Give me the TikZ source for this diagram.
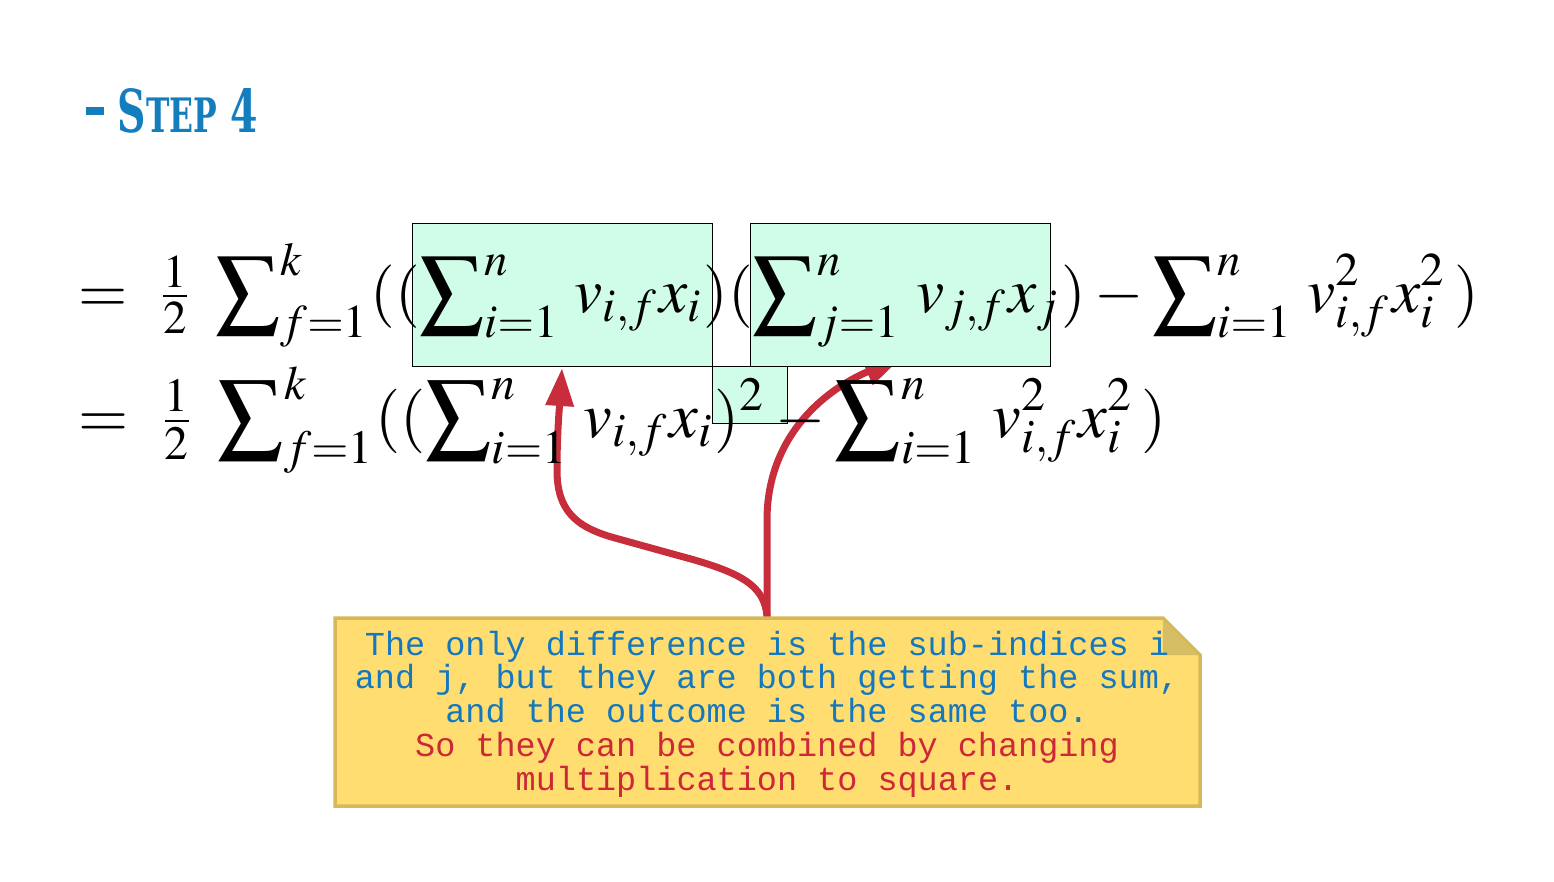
\documentclass[tikz,border=0pt]{standalone}
\usepackage{mathptmx}
\usepackage{fontspec}
\usetikzlibrary{arrows.meta}
\newfontfamily\titlefont{DejaVu Serif}
\newfontfamily\notefont{Liberation Mono}
\definecolor{boxfill}{RGB}{207,253,232}
\definecolor{titleblue}{RGB}{20,125,190}
\definecolor{arrowred}{RGB}{200,45,60}
\definecolor{notefill}{RGB}{255,221,112}
\definecolor{noteborder}{RGB}{214,184,88}
\definecolor{notefold}{RGB}{214,190,100}
\definecolor{noteblue}{RGB}{20,120,190}
\definecolor{notered}{RGB}{205,40,55}
\newcommand{\bigsum}{\sum\nolimits}
\newcommand{\half}{{\textstyle\frac{1}{2}}}
\tikzset{
  hlbox/.style={draw=black, line width=0.8pt, fill=boxfill, inner sep=0pt, minimum width=#1},
  redarrow/.style={draw=arrowred, line width=7pt, -{Triangle[length=38pt,width=27pt]}},
  formula/.style={anchor=base west, inner sep=0pt},
}
\begin{document}
\begin{tikzpicture}[x=1pt,y=-1pt]
\useasboundingbox (0,0) rectangle (1554,881);
% title
\node[anchor=base west, inner sep=0pt, text=titleblue] (title) at (86,132)
  {\resizebox{172pt}{44pt}{\titlefont\bfseries \raisebox{0.28em}{\rule{0.45em}{0.14em}}\kern0.35em S{\footnotesize TEP} 4}};
% arrows (under the boxes)
\coordinate (notetop) at (767,617);
\coordinate (box1tip) at (562,368);
\coordinate (box2tip) at (902,357);
\draw[redarrow] (notetop) .. controls (765,585) and (740,572) .. (680,556)
   -- (615,538) .. controls (575,527) and (557,510) .. (557,470)
   .. controls (557,430) and (560,400) .. (box1tip);
\draw[redarrow] (notetop) -- (767,520) .. controls (767,440) and (820,392) .. (box2tip);
% highlight boxes
\node[hlbox=300pt, minimum height=143pt, anchor=north west] (box1) at (412,223) {};
\node[hlbox=300pt, minimum height=143pt, anchor=north west] (box2) at (750,223) {};
\node[hlbox=75pt, minimum height=57pt, anchor=north west] (box3) at (712,366) {};
% formulas
\node[formula] (line1) at (78,312) {\resizebox{1400pt}{!}{$\displaystyle =\;\half\;\bigsum_{f=1}^{k}((\bigsum_{i=1}^{n}\,v_{i,f}x_i)(\bigsum_{j=1}^{n}\,v_{j,f}x_j) - \bigsum_{i=1}^{n}\,v_{i,f}^2x_i^2\,)$}};
\node[formula] (line2) at (78,437) {\resizebox{1088pt}{!}{$\displaystyle =\;\half\;\bigsum_{f=1}^{k}((\bigsum_{i=1}^{n}\,v_{i,f}x_i)^2 - \bigsum_{i=1}^{n}\,v_{i,f}^2x_i^2\,)$}};
% note
\filldraw[fill=notefill, draw=noteborder, line width=3.5pt, line join=miter]
  (335,618) -- (1163,618) -- (1200,655) -- (1200,806) -- (335,806) -- cycle;
\fill[notefold] (1163,620) -- (1198,655) -- (1163,655) -- cycle;
\node[align=center, inner sep=0pt, font=\notefont\fontsize{33.5}{33.7}\selectfont] (notetext) at (767,714)
  {\textcolor{noteblue}{The only difference is the sub-indices i}\\
   \textcolor{noteblue}{and j, but they are both getting the sum,}\\
   \textcolor{noteblue}{and the outcome is the same too.}\\
   \textcolor{notered}{So they can be combined by changing}\\
   \textcolor{notered}{multiplication to square.}};
\end{tikzpicture}
\end{document}
